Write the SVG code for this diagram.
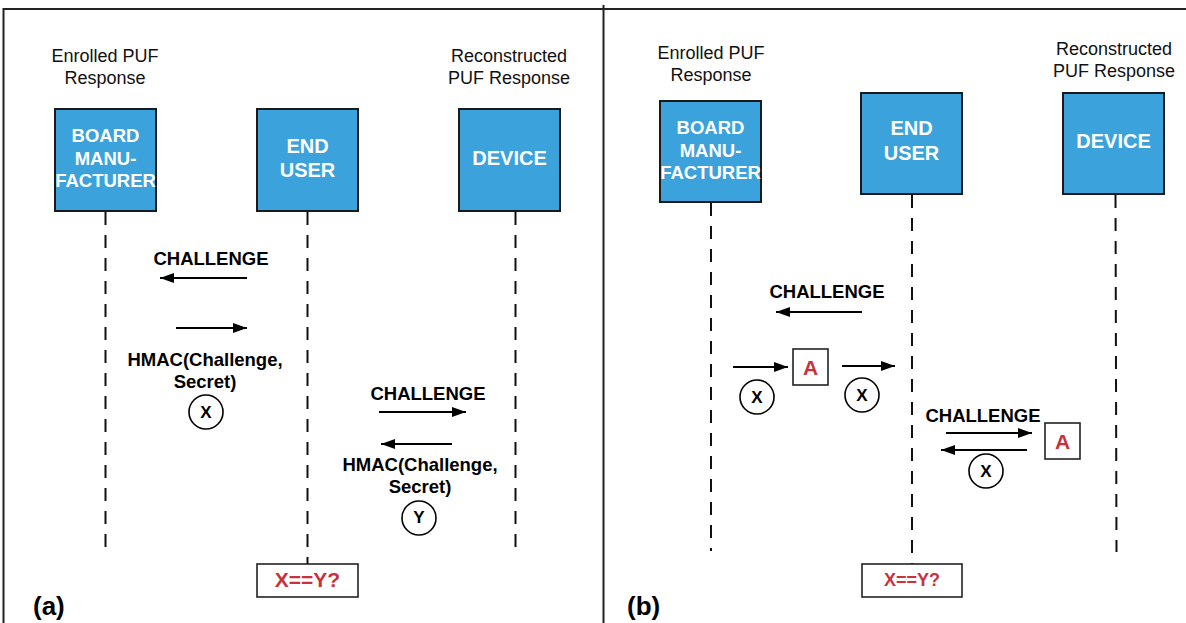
<svg xmlns="http://www.w3.org/2000/svg" width="1186" height="623" viewBox="0 0 1186 623">
<defs>
<marker id="ah" markerUnits="userSpaceOnUse" markerWidth="14" markerHeight="10" refX="14" refY="5" orient="auto">
<path d="M0,0 L14,5 L0,10 z" fill="#000"/>
</marker>
<style>
.hdr{font-family:"Liberation Sans",Arial,sans-serif;font-size:18px;fill:#111;text-anchor:middle}
.box{fill:#3ba2dc;stroke:#1a1a1a;stroke-width:2}
.bt{font-family:"Liberation Sans",Arial,sans-serif;font-weight:bold;fill:#fff;text-anchor:middle}
.life{stroke:#111;stroke-width:2;stroke-dasharray:13 10;fill:none}
.arr{stroke:#000;stroke-width:2;fill:none;marker-end:url(#ah)}
.lbl{font-family:"Liberation Sans",Arial,sans-serif;font-weight:bold;font-size:18.5px;fill:#000;text-anchor:middle}
.circ{fill:#fff;stroke:#000;stroke-width:1.6}
.ct{font-family:"Liberation Sans",Arial,sans-serif;font-weight:bold;font-size:17px;fill:#000;text-anchor:middle}
.red{font-family:"Liberation Sans",Arial,sans-serif;font-weight:bold;fill:#c8323c;text-anchor:middle}
.rbox{fill:#fff;stroke:#222;stroke-width:1.6}
.pl{font-family:"Liberation Sans",Arial,sans-serif;font-weight:bold;font-size:26px;fill:#000}
</style>
</defs>
<rect width="1186" height="623" fill="#fff"/>
<g id="frame" stroke="#222" stroke-width="2" fill="none">
<path d="M3.5 623 V9 H1186"/>
<path d="M603.5 5 V623"/>
</g>

<!-- Panel (a) -->
<g id="a-headers">
<text class="hdr" x="105" y="62">Enrolled PUF</text>
<text class="hdr" x="105" y="84">Response</text>
<text class="hdr" x="509" y="62">Reconstructed</text>
<text class="hdr" x="509" y="84">PUF Response</text>
</g>
<g id="a-board">
<rect class="box" x="55" y="109" width="101" height="102"/>
<text class="bt" font-size="18.5" x="105.5" y="142">BOARD</text>
<text class="bt" font-size="18.5" x="105.5" y="165">MANU-</text>
<text class="bt" font-size="18.5" x="105.5" y="187">FACTURER</text>
</g>
<g id="a-enduser">
<rect class="box" x="257" y="109" width="101" height="102"/>
<text class="bt" font-size="20" x="307.5" y="153">END</text>
<text class="bt" font-size="20" x="307.5" y="177">USER</text>
</g>
<g id="a-device">
<rect class="box" x="459" y="109" width="101" height="102"/>
<text class="bt" font-size="20" x="509.5" y="165">DEVICE</text>
</g>
<g id="a-check">
<rect class="rbox" x="257" y="564" width="101" height="33"/>
<text class="red" font-size="21" x="307.5" y="587">X==Y?</text>
</g>
<g id="a-x">
<circle class="circ" cx="206" cy="412" r="17"/>
<text class="ct" x="206" y="418">X</text>
</g>
<g id="a-y">
<circle class="circ" cx="419" cy="518" r="17"/>
<text class="ct" font-size="14" x="419" y="523">Y</text>
</g>
<g id="a-labels">
<text class="lbl" x="211" y="265">CHALLENGE</text>
<text class="lbl" x="205" y="366">HMAC(Challenge,</text>
<text class="lbl" x="205" y="388">Secret)</text>
<text class="lbl" x="428" y="400">CHALLENGE</text>
<text class="lbl" x="420" y="471">HMAC(Challenge,</text>
<text class="lbl" x="420" y="493">Secret)</text>
<text class="pl" x="33" y="615">(a)</text>
</g>

<!-- Panel (b) -->
<g id="b-headers">
<text class="hdr" x="711" y="59">Enrolled PUF</text>
<text class="hdr" x="711" y="81">Response</text>
<text class="hdr" x="1114" y="55">Reconstructed</text>
<text class="hdr" x="1114" y="77">PUF Response</text>
</g>
<g id="b-board">
<rect class="box" x="660" y="101" width="101" height="101"/>
<text class="bt" font-size="18.5" x="710.5" y="134">BOARD</text>
<text class="bt" font-size="18.5" x="710.5" y="157">MANU-</text>
<text class="bt" font-size="18.5" x="710.5" y="179">FACTURER</text>
</g>
<g id="b-enduser">
<rect class="box" x="861" y="93" width="101" height="101"/>
<text class="bt" font-size="20" x="911.5" y="135">END</text>
<text class="bt" font-size="20" x="911.5" y="160">USER</text>
</g>
<g id="b-device">
<rect class="box" x="1063" y="93" width="101" height="101"/>
<text class="bt" font-size="20" x="1113.5" y="148">DEVICE</text>
</g>
<g id="b-check">
<rect class="rbox" x="862" y="564" width="100" height="33"/>
<text class="red" font-size="18" x="912" y="586">X==Y?</text>
</g>
<g id="b-attacker1">
<rect class="rbox" x="793" y="349" width="35" height="36"/>
<text class="red" font-size="21" x="810.5" y="375">A</text>
</g>
<g id="b-attacker2">
<rect class="rbox" x="1045" y="423" width="35" height="36"/>
<text class="red" font-size="21" x="1062.5" y="449">A</text>
</g>
<g id="b-x1">
<circle class="circ" cx="757" cy="397" r="17"/>
<text class="ct" x="757" y="403">X</text>
</g>
<g id="b-x2">
<circle class="circ" cx="862" cy="395" r="17"/>
<text class="ct" x="862" y="401">X</text>
</g>
<g id="b-x3">
<circle class="circ" cx="986" cy="471" r="17"/>
<text class="ct" x="986" y="477">X</text>
</g>
<g id="b-labels">
<text class="lbl" x="827" y="298">CHALLENGE</text>
<text class="lbl" x="983" y="422">CHALLENGE</text>
<text class="pl" x="627" y="615">(b)</text>
</g>

<g id="connectors">
<line class="life" x1="105.5" y1="212" x2="105.5" y2="555"/>
<line class="life" x1="307.5" y1="212" x2="307.5" y2="564"/>
<line class="life" x1="515.5" y1="212" x2="515.5" y2="552"/>
<line class="life" x1="711" y1="203" x2="711" y2="551"/>
<line class="life" x1="912" y1="195" x2="912" y2="564"/>
<line class="life" x1="1115.5" y1="195" x2="1116.5" y2="552"/>
<line class="arr" x1="247" y1="278" x2="160" y2="278"/>
<line class="arr" x1="176" y1="328" x2="247" y2="328"/>
<line class="arr" x1="379" y1="412" x2="466" y2="412"/>
<line class="arr" x1="452" y1="444" x2="381" y2="444"/>
<line class="arr" x1="862" y1="312" x2="776" y2="312"/>
<line class="arr" x1="733" y1="367" x2="788" y2="367"/>
<line class="arr" x1="842" y1="366" x2="895" y2="366"/>
<line class="arr" x1="946" y1="433" x2="1032" y2="433"/>
<line class="arr" x1="1027" y1="450" x2="941" y2="450"/>
</g>
</svg>
